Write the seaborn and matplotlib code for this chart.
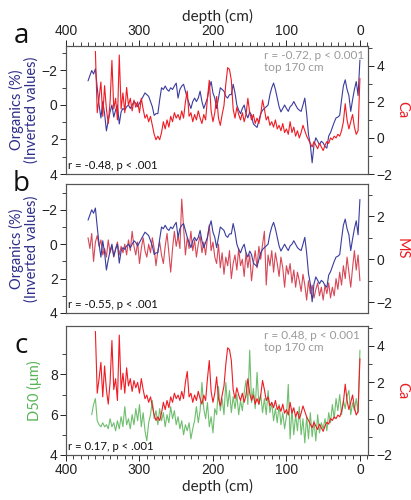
import numpy as np
import pandas as pd
import matplotlib
matplotlib.use("Agg")
import matplotlib.pyplot as plt
from matplotlib.ticker import MultipleLocator, FixedLocator
import seaborn as sns

# ---------------- data ----------------
# Organics (%), anomalies, every 2.5 cm from 370 cm to the top
org_start, org_step = 370, 2.5
organics = [-1.4, -1.7, -2.0, -1.8, -2.1, -1.0, 0.0, 0.75, -0.2, 0.5,
            1.5, 0.9, 0.4, 0.0, 0.7, 0.3, 0.0, 1.1, 0.4, 0.2,
            0.3, 0.1, 0.0, 0.2, 0.0, -0.2, -0.1, 0.1, -0.1, -0.3,
            -0.5, -0.7, -0.6, -0.5, -0.2, 0.1, 0.6, 0.5, 0.5, -0.3,
            -1.0, -0.9, -1.1, -0.9, -0.8, -1.0, -0.9, -1.1, -1.27, -0.4,
            -0.9, -1.1, -1.2, -0.8, -0.4, -0.1, 0.2, -0.2, -0.4, -0.2,
            -0.4, -0.8, -0.2, 0.2, -0.1, -0.4, -1.0, -1.36, -0.7, -0.4,
            0.2, -0.4, -1.0, -0.9, -0.8, -0.5, -0.4, -0.6, -0.6, -1.2,
            -0.7, 0.0, 0.3, 0.5, 0.2, 0.0, 0.5, 0.75, 0.4, 0.6,
            1.1, 1.2, 1.3, 0.9, 0.5, 0.3, 0.2, 0.1, 0.0, -0.6,
            -1.0, -1.27, -0.9, -0.4, 0.1, 0.4, 0.2, 0.0, 0.2, 0.37,
            0.1, 0.0, -0.2, 0.0, 0.2, 0.3, 0.37, 0.0, -0.4, 0.5,
            1.7, 2.3, 3.35, 2.3, 1.9, 2.1, 2.3, 2.1, 2.2, 2.4,
            2.5, 1.8, 1.6, 1.3, 1.0, 0.75, 0.7, 0.6, -0.3, -1.1,
            -1.46, -0.9, -0.55, 0.37, -0.3, -0.9, -1.36, -0.55, -2.6]

# Ca, every 2.5 cm from 360 cm
ca_start, ca_step = 360, 2.5
ca = [4.8, 1.4, 2.2, 3.1, 1.2, 2.9, 1.6, 0.8, 2.0, 4.3,
      1.6, 2.2, 1.0, 4.6, 1.6, 2.5, 1.4, 2.8, 1.8, 2.2,
      1.5, 2.1, 1.7, 2.0, 1.4, 2.2, 1.6, 1.1, 1.3, 0.9,
      1.2, 0.7, 0.2, -0.1, 0.1, -0.1, 0.3, 0.9, 0.5, 1.0,
      0.6, 1.2, 0.9, 1.4, 1.1, 1.3, 1.0, 1.5, 1.1, 2.0,
      2.6, 1.2, 1.4, 0.9, 1.3, 1.0, 1.5, 1.1, 0.8, 1.3,
      1.0, 2.2, 3.2, 1.5, 0.9, 1.4, 2.3, 1.1, 0.7, 1.3,
      1.8, 3.0, 3.9, 3.8, 3.2, 1.6, 1.1, 1.7, 1.3, 1.0,
      1.4, 0.9, 1.3, 2.2, 1.4, 1.0, 1.3, 0.8, 1.1, 0.8,
      1.3, 2.1, 1.6, 1.0, 1.2, 0.7, 0.9, 0.6, 1.0, 0.5,
      0.7, 0.4, 0.8, 0.3, 0.5, 0.2, 0.9, 0.3, 0.6, 0.1,
      0.4, 0.0, 0.3, 0.7, 0.4, 0.1, -0.1, -0.3, -0.5, -0.2,
      -0.4, -0.6, -0.3, -0.5, -0.7, -0.4, -0.2, -0.3, 0.0, -0.1,
      0.1, 0.0, 0.2, 0.1, 0.4, 0.9, 1.9, 1.0, 0.5, 0.9,
      1.3, 0.6, 0.2, 0.4, 3.3]

# MS, every 2.5 cm from 370 cm
ms_start, ms_step = 370, 2.5
ms = [1.0, 0.5, 1.2, -0.1, 0.8, 1.1, 0.6, 0.9, 0.2, 0.5,
      0.1, 0.9, 0.3, 0.6, 0.1, 0.5, 0.8, 0.2, 0.6, 0.3,
      0.7, 0.2, 0.9, 0.4, 1.3, 0.6, 0.2, 0.8, -0.2, 0.5,
      1.0, 0.4, 0.1, 0.7, 0.3, 1.0, 0.5, -0.3, 0.4, 0.8,
      0.2, -0.2, 0.6, 1.2, 0.3, -0.6, 0.5, 1.3, 0.6, 1.1,
      0.5, 2.8, 1.5, 0.2, 1.0, 0.5, 1.3, 0.4, 0.9, 0.1,
      0.7, 1.1, 0.3, 0.8, 0.2, 1.0, 1.6, 0.4, 0.8, 0.1,
      -0.2, 0.7, -0.4, 0.3, -0.7, 0.1, -0.3, 0.4, -0.9, -0.2,
      0.2, -0.5, 0.5, -0.3, 0.0, -0.8, 0.3, -0.4, 0.2, -1.0,
      -0.2, 0.4, -0.4, 0.6, 0.0, 0.7, 1.3, -1.2, 0.2, -0.3,
      0.4, -0.6, 0.3, -0.2, -0.8, 0.1, -0.4, -1.3, -0.3, -0.7,
      -0.2, -1.1, -0.5, -1.3, -0.6, -1.0, -1.5, -0.7, -1.2, -1.9,
      -1.0, -1.6, -1.2, -1.8, -1.4, -1.1, -1.7, -1.3, -1.9, -1.2,
      -1.6, -1.1, -1.8, -1.3, -1.7, -0.9, -1.4, -0.6, -1.2, -0.3,
      -0.9, 0.1, -0.6, -1.3, -0.4, 0.4, -0.5, 0.2, -1.0]

# D50 (um), every 2.5 cm from 365 cm
d50_start, d50_step = 365, 2.5
d50 = [6.0, 6.5, 6.8, 5.7, 5.5, 5.4, 5.6, 5.4, 5.5, 5.3,
       5.8, 5.4, 5.6, 5.2, 5.7, 5.3, 5.9, 5.4, 6.4, 5.5,
       5.8, 5.3, 6.0, 5.5, 6.3, 5.7, 6.5, 5.4, 6.1, 5.2,
       4.7, 5.6, 6.0, 6.7, 5.8, 6.2, 5.5, 6.3, 5.7, 6.1,
       5.4, 6.0, 5.6, 6.4, 5.8, 6.2, 5.5, 5.9, 5.3, 5.7,
       5.0, 5.5, 5.2, 5.6, 4.8, 5.3, 5.7, 6.4, 5.6, 6.2,
       7.6, 6.3, 5.8, 6.6, 5.4, 5.9, 5.1, 6.3, 6.0, 7.4,
       6.2, 6.8, 6.0, 7.6, 6.4, 7.2, 6.1, 6.9, 6.3, 7.0,
       6.0, 6.7, 6.2, 7.1, 7.7, 6.5, 9.2, 6.6, 7.3, 6.3,
       8.1, 6.5, 7.0, 6.1, 6.8, 6.0, 7.2, 6.1, 6.6, 5.7,
       6.3, 5.6, 6.5, 5.5, 6.1, 5.3, 5.9, 7.5, 4.8, 6.3,
       5.0, 6.0, 5.2, 6.4, 5.0, 5.8, 4.6, 5.9, 4.8, 6.1,
       4.9, 5.7, 4.7, 6.0, 5.1, 5.6, 5.3, 5.8, 5.2, 6.1,
       5.6, 6.5, 5.8, 6.8, 6.2, 7.0, 6.0, 6.7, 6.3, 6.9,
       7.2, 6.0, 6.6, 6.2, 6.8, 6.1, 9.2]

x_ticks = [400, 300, 200, 100, 0]
panel_letters = ["a", "b", "c"]
stats_bottom = ["r = -0.48, p < .001", "r = -0.55, p < .001", "r = 0.17, p < .001"]
stats_top = ["r = -0.72, p < 0.001\ntop 170 cm", None, "r = 0.48, p < 0.001\ntop 170 cm"]


def frame(start, step, vals):
    return pd.DataFrame({"depth": start - step * np.arange(len(vals)), "v": vals})


df_org = frame(org_start, org_step, organics)
df_ca = frame(ca_start, ca_step, ca)
df_ms = frame(ms_start, ms_step, ms)
df_d50 = frame(d50_start, d50_step, d50)

# ---------------- style ----------------
sns.set_style("ticks")
plt.rcParams["font.family"] = ["Liberation Sans", "DejaVu Sans"]
plt.rcParams["xtick.direction"] = "out"
plt.rcParams["ytick.direction"] = "out"

BLUE = "#3a3c9e"
BLUE_TXT = "#2e2e8a"
RED = "#ee1c24"
RED2 = "#d0283a"
GREEN = "#55b355"
GRAY = "#9a9a9a"
LFONT = ["Lato", "DejaVu Sans"]

fig = plt.figure(figsize=(4.11, 5.0), dpi=100)
L, W = 66 / 411, 302 / 411
boxes = [(46, 174), (184, 313), (326, 455)]

FS = 10
LABFS = 10.5
for i, (t, b) in enumerate(boxes):
    ax = fig.add_axes([L, 1 - b / 500, W, (b - t) / 500])
    ax2 = ax.twinx()
    if i == 0:
        sns.lineplot(data=df_org, x="depth", y="v", ax=ax, color=BLUE, lw=0.8, sort=False)
        sns.lineplot(data=df_ca, x="depth", y="v", ax=ax2, color=RED, lw=0.8, sort=False)
        ax.set_ylim(4, -3.42)
        ax2.set_ylim(-2, 5.1)
        ax.set_ylabel("Organics (%)\n(Inverted values)", color=BLUE_TXT, fontsize=LABFS,
                      family=LFONT, labelpad=2, linespacing=1.05)
        ax2.set_ylabel("Ca", color=RED, rotation=-90, fontsize=LABFS, family=LFONT, labelpad=12)
        ax.yaxis.set_major_locator(MultipleLocator(2))
        ax.yaxis.set_minor_locator(MultipleLocator(1))
    elif i == 1:
        sns.lineplot(data=df_ms, x="depth", y="v", ax=ax2, color=RED2, lw=0.8, alpha=0.85, sort=False)
        sns.lineplot(data=df_org, x="depth", y="v", ax=ax, color=BLUE, lw=0.8, sort=False)
        ax.set_zorder(ax2.get_zorder() + 1)
        ax.patch.set_visible(False)
        ax.set_ylim(4, -3.5)
        ax2.set_ylim(-2.5, 3.5)
        ax.set_ylabel("Organics (%)\n(Inverted values)", color=BLUE_TXT, fontsize=LABFS,
                      family=LFONT, labelpad=2, linespacing=1.05)
        ax2.set_ylabel("MS", color=RED, rotation=-90, fontsize=LABFS, family=LFONT, labelpad=12)
        ax.yaxis.set_major_locator(MultipleLocator(2))
        ax.yaxis.set_minor_locator(MultipleLocator(1))
    else:
        sns.lineplot(data=df_d50, x="depth", y="v", ax=ax, color=GREEN, lw=0.8, alpha=0.85, sort=False)
        sns.lineplot(data=df_ca, x="depth", y="v", ax=ax2, color=RED, lw=0.8, sort=False)
        ax.set_ylim(4, 10.4)
        ax2.set_ylim(-2, 5.1)
        ax.set_ylabel("D50 (\u03bcm)", color=GREEN, fontsize=LABFS, family=LFONT, labelpad=6)
        ax2.set_ylabel("Ca", color=RED, rotation=-90, fontsize=LABFS, family=LFONT, labelpad=12)
        ax.yaxis.set_major_locator(FixedLocator([4, 6, 8]))
        ax.yaxis.set_minor_locator(FixedLocator([5, 7, 9]))
    ax2.yaxis.set_major_locator(MultipleLocator(2))
    ax2.yaxis.set_minor_locator(MultipleLocator(1))

    for a in (ax, ax2):
        a.set_xlim(400, -11)
        for s in a.spines.values():
            s.set_color("#555555")
            s.set_linewidth(0.8)
        a.tick_params(which="major", length=4, width=0.7, labelsize=FS, colors="#222222", pad=2)
        a.tick_params(which="minor", length=3, width=0.6, colors="#222222")
    ax2.set_xlabel("")
    ax.set_xlabel("")

    ax.xaxis.set_major_locator(FixedLocator(x_ticks))
    ax.xaxis.set_minor_locator(MultipleLocator(10))
    ax.set_xticklabels([str(v) for v in x_ticks])
    if i == 0:
        ax.xaxis.tick_top()
        ax.xaxis.set_label_position("top")
        ax.set_xlabel("depth (cm)", fontsize=LABFS + 0.5, family=LFONT, labelpad=2)
    elif i == 1:
        ax.tick_params(axis="x", which="both", bottom=False, top=False, labelbottom=False)
    else:
        ax.set_xlabel("depth (cm)", fontsize=LABFS + 0.5, family=LFONT, labelpad=1)
    ax2.tick_params(axis="x", which="both", bottom=False, top=False, labelbottom=False, labeltop=False)

    ax.text(0.005, 0.02, stats_bottom[i], transform=ax.transAxes, fontsize=8.2,
            family=LFONT, color="#111111", ha="left", va="bottom")
    if stats_top[i]:
        ax.text(0.655, 0.97, stats_top[i], transform=ax.transAxes, fontsize=8.5,
                family=LFONT, color=GRAY, ha="left", va="top", linespacing=1.1)

letter_y = [36, 184, 346]
for lt, yy in zip(panel_letters, letter_y):
    fig.text(21 / 411, 1 - yy / 500, lt, fontsize=20, family=["Open Sans", "DejaVu Sans"],
             ha="center", va="center", color="#111111")

fig.savefig("out.png", dpi=100)
